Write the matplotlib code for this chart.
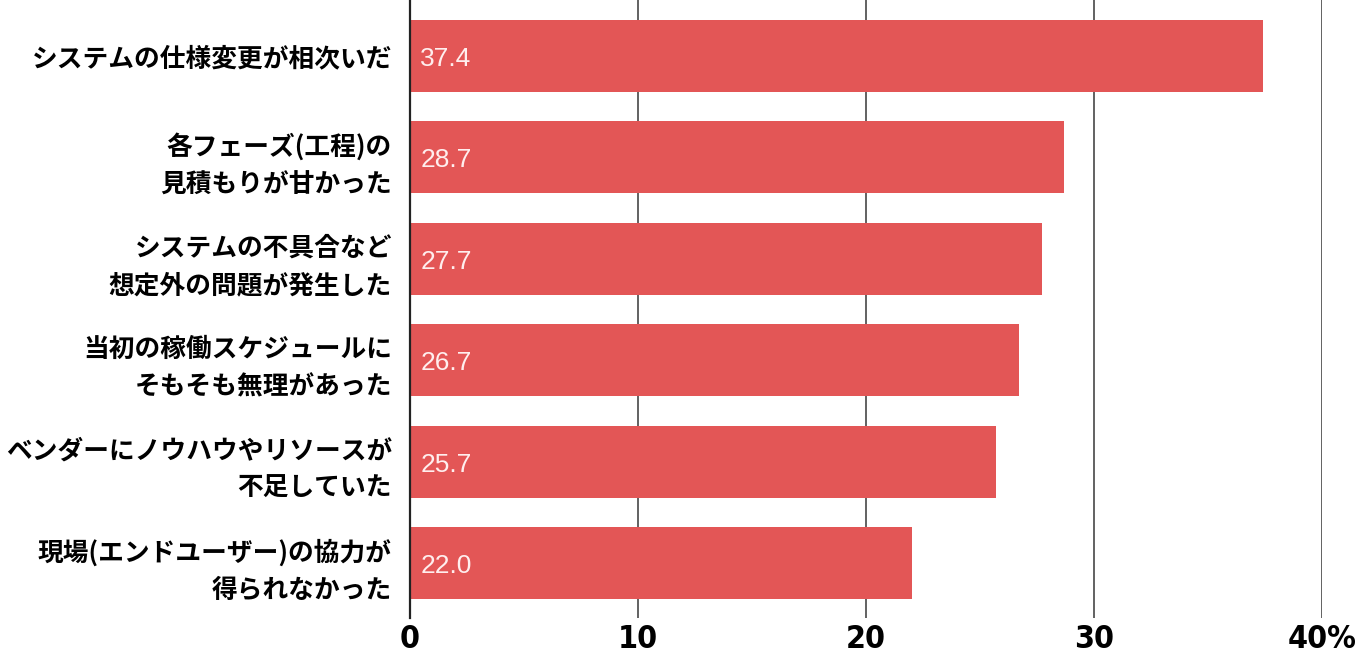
import matplotlib
matplotlib.use('Agg')
import matplotlib.pyplot as plt

# survey answers (top to bottom) and their share in %
labels = [
    'システムの仕様変更が相次いだ',
    '各フェーズ(工程)の\n見積もりが甘かった',
    'システムの不具合など\n想定外の問題が発生した',
    '当初の稼働スケジュールに\nそもそも無理があった',
    'ベンダーにノウハウやリソースが\n不足していた',
    '現場(エンドユーザー)の協力が\n得られなかった',
]
values = [37.4, 28.7, 27.7, 26.7, 25.7, 22.0]
ticks = [0, 10, 20, 30, 40]
tick_labels = ['0', '10', '20', '30', '40%']

plt.rcParams['font.family'] = ['Noto Sans CJK JP', 'DejaVu Sans']

fig = plt.figure(figsize=(13.56, 6.54), dpi=100)
ax = fig.add_axes([0.3024, 0.055, 0.6725, 0.945])

pos = list(range(len(values)))
ax.barh(pos, values, height=0.71, color='#E35656', zorder=2)

for y, v in zip(pos, values):
    ax.text(0.45, y + 0.03, '%.1f' % v, color='#FFEEEE', fontsize=19,
            family='Liberation Sans', va='center', ha='left', zorder=3)

ax.set_xlim(0, 40)
ax.set_ylim(5.54, -0.55)
ax.set_yticks(pos)
ax.set_yticklabels(labels, fontsize=18.5, fontweight='bold', linespacing=1.5)
ax.set_xticks(ticks)
ax.set_xticklabels(tick_labels, fontsize=23, fontweight='bold',
                   family='DejaVu Sans', fontstretch='condensed')

ax.tick_params(axis='y', length=0, pad=13)
ax.tick_params(axis='x', length=0, pad=4)

ax.grid(axis='x', color='#555555', linewidth=1.3, zorder=0)
for s in ['top', 'right', 'bottom']:
    ax.spines[s].set_visible(False)
ax.spines['left'].set_color('#222222')
ax.spines['left'].set_linewidth(1.6)
ax.spines['left'].set_zorder(4)

fig.savefig('out.png', dpi=100)
